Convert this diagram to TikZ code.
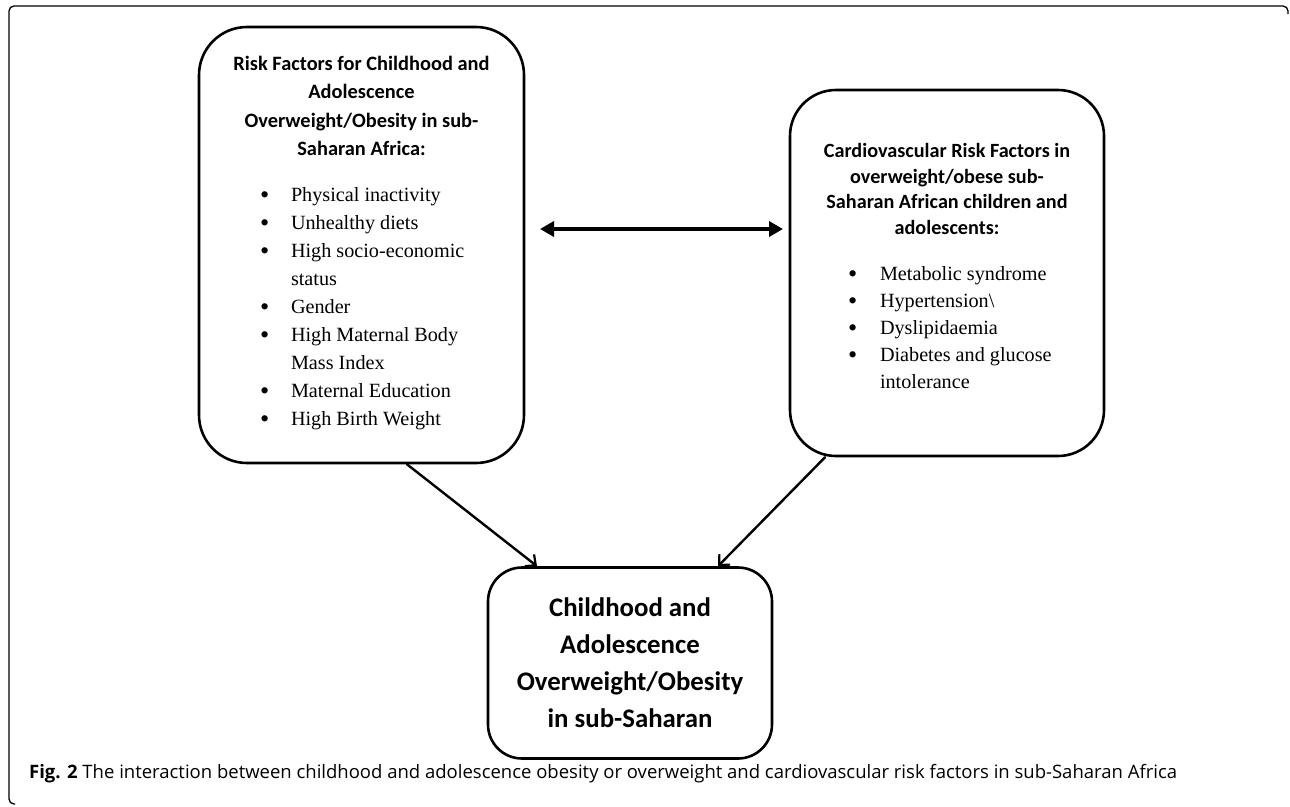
\documentclass[tikz,border=0pt]{standalone}
\usepackage{fontspec}
\setmainfont{Liberation Serif}
\newfontfamily\headfont{Carlito}
\newfontfamily\capfont{Open Sans}
\usetikzlibrary{arrows.meta}
\newcommand\bigdot{\raisebox{-1.8pt}{\scalebox{1.3}{\textbullet}}}
\begin{document}
\begin{tikzpicture}[x=1pt,y=-1pt,line join=round,line cap=round]
	\tikzset{
		roundbox/.style={draw,line width=2.6pt,rounded corners=#1,inner sep=0pt},
		link/.style={line width=2.4pt,-{Straight Barb[length=8pt,width=15pt,line width=2.2pt]}},
	}
	\useasboundingbox (0,0) rectangle (1290,806);
	% frame round the figure
	\draw[line width=1.3pt,rounded corners=5pt,line cap=butt] (1288,14)--(1288,6)--(9,6)--(9,804)--(15,804);
	% the three boxes
	\node[roundbox=48pt,minimum width=325pt,minimum height=436pt] (risk) at (361.5,245) {%
		\begin{minipage}{325pt}\centering
			{\headfont\bfseries\fontsize{20.4}{28.5}\selectfont Risk Factors for Childhood and\\Adolescence\\Overweight/Obesity in sub-\\Saharan Africa:\par}
			\vspace{25pt}\raggedright\fontsize{20.2}{28}\selectfont
			\hspace*{61pt}\begin{tabular}{@{}p{31pt}@{}l@{}}
				\bigdot & Physical inactivity\\
				\bigdot & Unhealthy diets\\
				\bigdot & High socio-economic\\
				& status\\
				\bigdot & Gender\\
				\bigdot & High Maternal Body\\
				& Mass Index\\
				\bigdot & Maternal Education\\
				\bigdot & High Birth Weight
			\end{tabular}
		\end{minipage}};
	\node[roundbox=46pt,minimum width=314pt,minimum height=366pt] (cvd) at (947,273) {%
		\begin{minipage}{314pt}\centering
			{\headfont\bfseries\fontsize{20.2}{25.5}\selectfont Cardiovascular Risk Factors in\\overweight/obese sub-\\Saharan African children and\\adolescents:\par}
			\vspace{26pt}\raggedright\fontsize{20.2}{27}\selectfont
			\hspace*{58pt}\begin{tabular}{@{}p{32pt}@{}l@{}}
				\bigdot & Metabolic syndrome\\
				\bigdot & Hypertension\textbackslash\\
				\bigdot & Dyslipidaemia\\
				\bigdot & Diabetes and glucose\\
				& intolerance
			\end{tabular}\par\vspace{6pt}
		\end{minipage}};
	\node[roundbox=34pt,minimum width=284pt,minimum height=191pt,align=center,
		font=\headfont\bfseries\fontsize{26.8}{37}\selectfont] (obese) at (630,663)
		{Childhood and\\Adolescence\\Overweight/Obesity\\in sub-Saharan};
	% connectors
	\coordinate (dl) at (540,229);
	\coordinate (dr) at (783,229);
	\draw[line width=4pt,{Triangle[length=14pt,width=15pt]}-{Triangle[length=14pt,width=15pt]}] (dl)--(dr);
	\draw[link] ([xshift=45.5pt]risk.south)--([xshift=-93pt]obese.north);
	\draw[link] ([xshift=-122pt]cvd.south)--([xshift=88pt]obese.north);
	% caption
	\node[anchor=base west,inner sep=0pt,font=\capfont\fontsize{18.5}{20}\selectfont] (cap) at (29,778)
		{\textbf{Fig. 2} The interaction between childhood and adolescence obesity or overweight and cardiovascular risk factors in sub-Saharan Africa};
\end{tikzpicture}
\end{document}
